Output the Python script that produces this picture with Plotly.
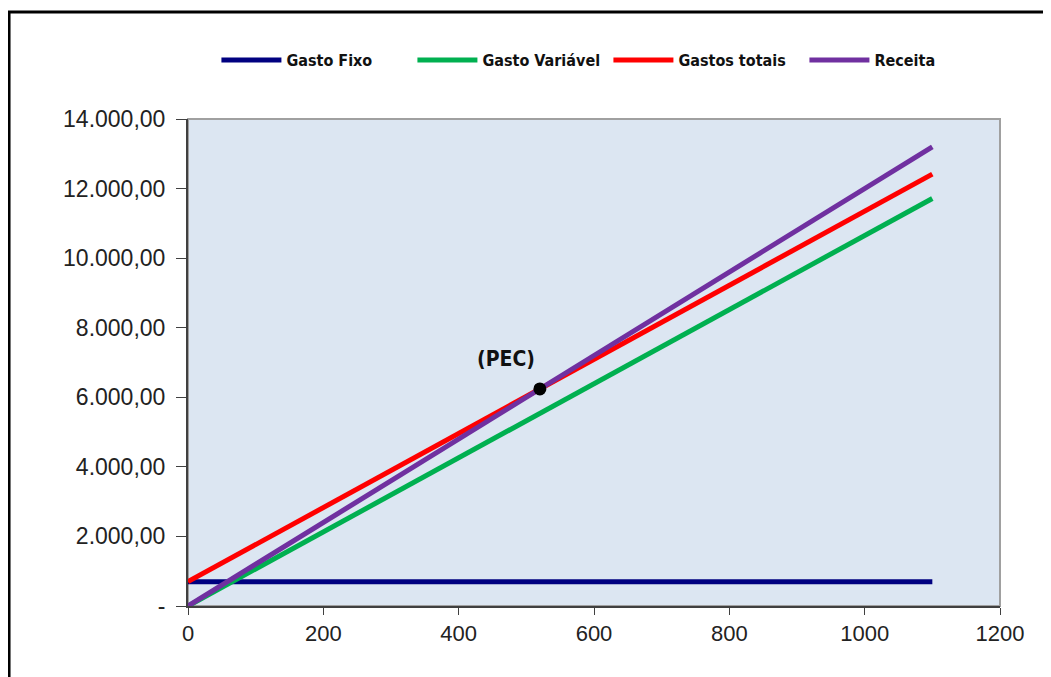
import plotly.graph_objects as go

quantidade = [0, 100, 200, 300, 400, 500, 600, 700, 800, 900, 1000, 1100]
gasto_fixo = [700, 700, 700, 700, 700, 700, 700, 700, 700, 700, 700, 700]
gasto_variavel = [0, 1065, 2130, 3195, 4260, 5325, 6390, 7455, 8520, 9585, 10650, 11715]
gastos_totais = [700, 1765, 2830, 3895, 4960, 6025, 7090, 8155, 9220, 10285, 11350, 12415]
receita = [0, 1200, 2400, 3600, 4800, 6000, 7200, 8400, 9600, 10800, 12000, 13200]
pec_x = [520]
pec_y = [6240]

y_ticks = [0, 2000, 4000, 6000, 8000, 10000, 12000, 14000]
y_labels = ["-", "2.000,00", "4.000,00", "6.000,00", "8.000,00", "10.000,00", "12.000,00", "14.000,00"]
x_ticks = [0, 200, 400, 600, 800, 1000, 1200]

NARROW = "Liberation Sans Narrow, DejaVu Sans Condensed, Arial Narrow, Arial"

fig = go.Figure()
series = [
    ("Gasto Fixo", gasto_fixo, "#000080"),
    ("Gasto Variável", gasto_variavel, "#00B050"),
    ("Gastos totais", gastos_totais, "#FF0000"),
    ("Receita", receita, "#7030A0"),
]
for name, ys, col in series:
    fig.add_trace(go.Scatter(x=quantidade, y=ys, mode="lines", name=name,
                             line=dict(color=col, width=5)))

fig.add_trace(go.Scatter(x=pec_x, y=pec_y, mode="markers", showlegend=False,
                         marker=dict(color="black", size=13)))
fig.add_annotation(x=pec_x[0] - 50, y=pec_y[0] + 850, text="<b>(PEC)</b>", showarrow=False,
                   font=dict(family=NARROW, size=21, color="#111"))

# outer frame
fig.add_shape(type="rect", xref="paper", yref="paper", x0=-0.2204, x1=1.08, y0=-0.25, y1=1.2197,
              line=dict(color="black", width=3), layer="below")
# plot border (top/right)
fig.add_shape(type="rect", xref="paper", yref="paper", x0=0, x1=1, y0=0, y1=1,
              line=dict(color="#A0A0A0", width=2), layer="below")

fig.update_layout(
    width=1051, height=677,
    margin=dict(l=180, r=59, t=111, b=79),
    paper_bgcolor="white",
    plot_bgcolor="#DCE6F2",
    font=dict(family="Arial, Liberation Sans", color="#222"),
    legend=dict(orientation="h", x=0.035, y=1.121, xanchor="left", yanchor="middle",
                font=dict(family=NARROW, size=16, color="#111", weight="bold"),
                itemwidth=60, tracegroupgap=0, bgcolor="rgba(0,0,0,0)",
                entrywidth=121, entrywidthmode="pixels"),
    xaxis=dict(range=[0, 1200], tickvals=x_ticks, showgrid=False, zeroline=False,
               showline=True, linecolor="#404040", linewidth=2, ticks="outside", ticklen=7,
               tickcolor="#404040", tickfont=dict(size=22, color="#222")),
    yaxis=dict(range=[0, 14000], tickvals=y_ticks, ticktext=y_labels, showgrid=False, zeroline=False,
               showline=True, linecolor="#404040", linewidth=2, ticks="outside", ticklen=10,
               tickcolor="#404040", tickfont=dict(size=23, color="#222"), ticklabelstandoff=6),
)

fig.write_html("out.html")
